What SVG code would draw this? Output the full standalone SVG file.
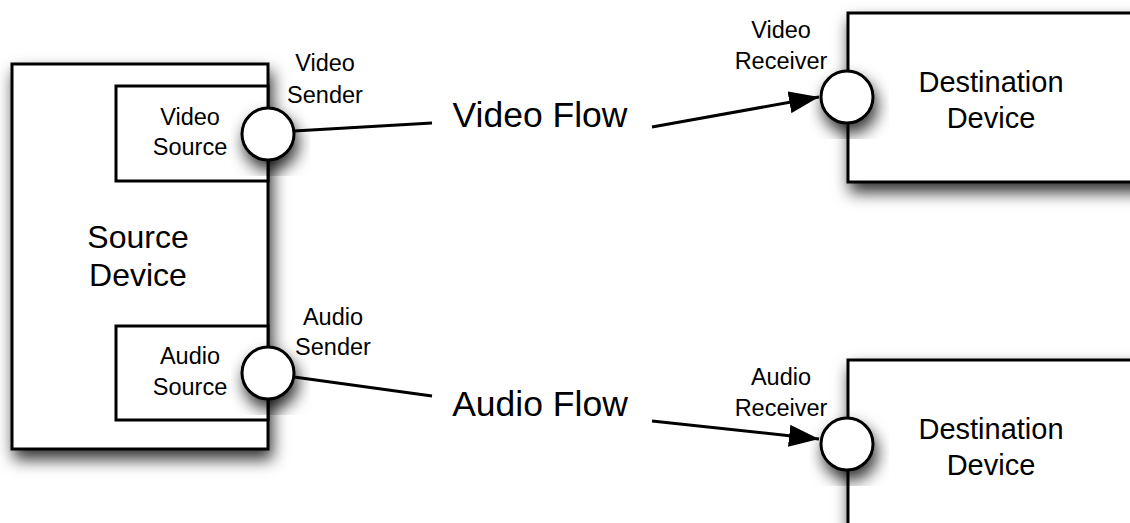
<svg xmlns="http://www.w3.org/2000/svg" width="1130" height="523" viewBox="0 0 1130 523">
<defs>
<filter id="sh" x="-20%" y="-20%" width="150%" height="150%">
<feDropShadow dx="3" dy="9" stdDeviation="8" flood-color="#000" flood-opacity="0.8"/>
</filter>
<marker id="arr" viewBox="0 0 30 22" refX="30" refY="11" markerWidth="30" markerHeight="22" markerUnits="userSpaceOnUse" orient="auto">
<path d="M0,0 L30,11 L0,22 Z" fill="#000"/>
</marker>
<style>
.box{fill:#fff;stroke:#000;stroke-width:3}
.port{fill:#fff;stroke:#000;stroke-width:3}
.t{font-family:"Liberation Sans",Arial,sans-serif;fill:#000;text-anchor:middle}
.s{font-size:23.5px}
.m{font-size:29px}
.k{font-size:32px}
.l{font-size:35.5px}
.c{stroke:#000;stroke-width:3;fill:none}
</style>
</defs>
<g id="source-device">
<rect class="box" x="12" y="64" width="256" height="385" filter="url(#sh)"/>
<text class="t k" x="138" y="248">Source</text>
<text class="t k" x="138" y="286">Device</text>
</g>
<g id="video-source">
<rect class="box" x="116" y="86" width="152" height="95"/>
<text class="t s" x="190" y="125">Video</text>
<text class="t s" x="190" y="155">Source</text>
</g>
<g id="audio-source">
<rect class="box" x="116" y="326" width="152" height="94"/>
<text class="t s" x="190" y="364">Audio</text>
<text class="t s" x="190" y="395">Source</text>
</g>
<g id="dest-video">
<rect class="box" x="848" y="13" width="300" height="169" filter="url(#sh)"/>
<text class="t m" x="991" y="92">Destination</text>
<text class="t m" x="991" y="128">Device</text>
</g>
<g id="dest-audio">
<rect class="box" x="848" y="360" width="300" height="200" filter="url(#sh)"/>
<text class="t m" x="991" y="439">Destination</text>
<text class="t m" x="991" y="475">Device</text>
</g>
<g id="video-sender">
<circle class="port" cx="268" cy="134" r="26" filter="url(#sh)"/>
<text class="t s" x="325" y="71">Video</text>
<text class="t s" x="325" y="103">Sender</text>
</g>
<g id="audio-sender">
<circle class="port" cx="268" cy="373" r="26" filter="url(#sh)"/>
<text class="t s" x="333" y="325">Audio</text>
<text class="t s" x="333" y="355">Sender</text>
</g>
<g id="video-receiver">
<circle class="port" cx="847" cy="97" r="26" filter="url(#sh)"/>
<text class="t s" x="781" y="38">Video</text>
<text class="t s" x="781" y="69">Receiver</text>
</g>
<g id="audio-receiver">
<circle class="port" cx="847" cy="444" r="26" filter="url(#sh)"/>
<text class="t s" x="781" y="385">Audio</text>
<text class="t s" x="781" y="416">Receiver</text>
</g>
<g id="connectors">
<line class="c" x1="294" y1="131" x2="432" y2="123"/>
<line class="c" x1="652" y1="127" x2="819" y2="97" marker-end="url(#arr)"/>
<text class="t l" x="540" y="127">Video Flow</text>
<line class="c" x1="294" y1="377" x2="432" y2="396"/>
<line class="c" x1="652" y1="421" x2="819" y2="439" marker-end="url(#arr)"/>
<text class="t l" x="540" y="416">Audio Flow</text>
</g>
</svg>
